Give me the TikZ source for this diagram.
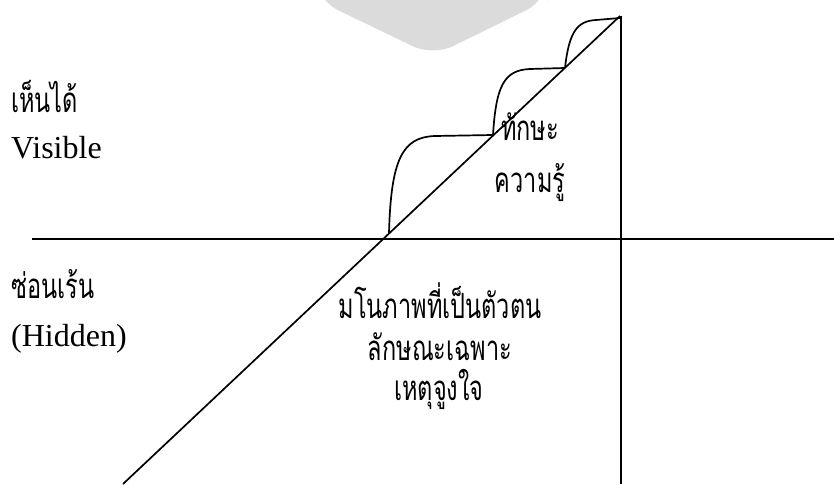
\documentclass[tikz,border=0pt]{standalone}
\usepackage{fontspec}
\usepackage{graphicx}
\setmainfont{Liberation Serif}
\newfontfamily\thaifont[Script=Thai]{Loma}
\newcommand{\tallthai}[1]{\scalebox{0.98}[1.45]{#1}}
\tikzset{
  thailabel/.style={font=\thaifont\fontsize{24}{28}\selectfont, inner sep=0pt},
  latinlabel/.style={font=\fontsize{32}{36}\selectfont, inner sep=0pt},
  axisline/.style={line width=2pt},
  stepline/.style={line width=1.7pt}
}
\begin{document}
\begin{tikzpicture}[x=1pt, y=-1pt]
    \useasboundingbox (0,0) rectangle (834,484);

    % faint watermark at the top
    \fill[gray!28, rounded corners=22pt] (317,-20) -- (317,0) -- (433,56) -- (547,0) -- (547,-20) -- cycle;

    % axes
    \coordinate (left) at (32,239);
    \coordinate (right) at (834,239);
    \coordinate (top) at (621,16);
    \coordinate (bottom) at (621,484);
    \draw[axisline] (left) -- (right);
    \draw[stepline] (top) -- (bottom);

    % diagonal
    \coordinate (base) at (123,484);
    \coordinate (peak) at (620,16);
    \draw[stepline] (base) -- (peak);

    % steps above the diagonal
    \draw[stepline] (389,233) .. controls (391,160) and (402,137) .. (435,136) -- (493,135);
    \draw[stepline] (493,135) .. controls (496,86) and (504,70) .. (530,69) -- (565,68);
    \draw[stepline] (565,68) .. controls (569,32) and (577,21) .. (596,20) -- (620,18);

    % left side labels
    \node[thailabel, anchor=base west] (seen) at (11,113) {\tallthai{เห็นได้}};
    \node[latinlabel, anchor=base west] (visible) at (11,158) {Visible};
    \node[thailabel, anchor=base west] (hid) at (11,298) {\tallthai{ซ่อนเร้น}};
    \node[latinlabel, anchor=base west] (hidden) at (11,346) {(Hidden)};

    % visible part
    \node[thailabel, anchor=base] (skill) at (530,140) {\tallthai{ทักษะ}};
    \node[thailabel, anchor=base] (know) at (530,192) {\tallthai{ความรู้}};

    % hidden part
    \node[thailabel, anchor=base] (self) at (440,318) {\tallthai{มโนภาพที่เป็นตัวตน}};
    \node[thailabel, anchor=base] (trait) at (440,360) {\tallthai{ลักษณะเฉพาะ}};
    \node[thailabel, anchor=base] (motive) at (439,400) {\tallthai{เหตุจูงใจ}};
\end{tikzpicture}
\end{document}
